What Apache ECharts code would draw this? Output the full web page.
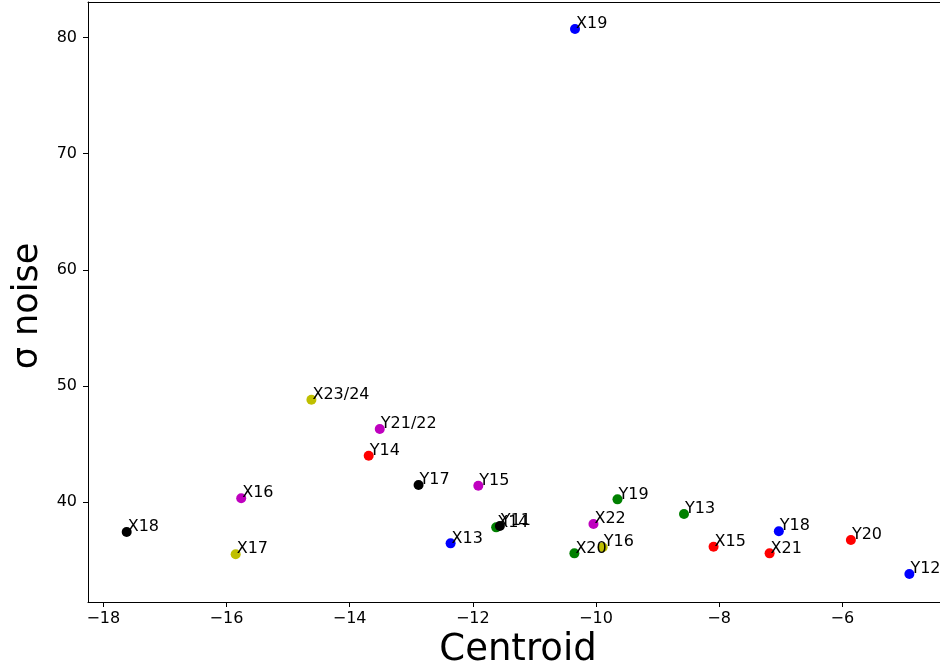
<!DOCTYPE html>
<html>
<head>
<meta charset="utf-8">
<script src="https://cdn.jsdelivr.net/npm/echarts@6/dist/echarts.min.js"></script>
<style>
  html, body { margin: 0; padding: 0; background: #ffffff; }
  #chart { width: 940px; height: 668px; }
</style>
</head>
<body>
<div id="chart"></div>
<script>
// Point labels, centroid position and noise level for each channel
const labels = ['X13', 'X14', 'X15', 'X16', 'X17', 'X18', 'X19', 'X20', 'X21', 'X22', 'X23/24',
                'Y11', 'Y12', 'Y13', 'Y14', 'Y15', 'Y16', 'Y17', 'Y18', 'Y19', 'Y20', 'Y21/22'];
const centroid = [-12.36, -11.62, -8.09, -15.76, -15.85, -17.62, -10.34, -10.35, -7.18, -10.04, -14.62,
                  -11.56, -4.91, -8.57, -13.69, -11.91, -9.89, -12.88, -7.03, -9.65, -5.86, -13.51];
const sigmaNoise = [36.44, 37.82, 36.15, 40.32, 35.50, 37.42, 80.75, 35.58, 35.58, 38.11, 48.81,
                    37.93, 33.80, 38.97, 43.99, 41.40, 36.10, 41.46, 37.48, 40.23, 36.73, 46.29];
// Colour code per point (b, g, r, m, y, k cycle)
const colourCode = ['b', 'g', 'r', 'm', 'y', 'k', 'b', 'g', 'r', 'm', 'y',
                    'k', 'b', 'g', 'r', 'm', 'y', 'k', 'b', 'g', 'r', 'm'];

const xTicks = [-18, -16, -14, -12, -10, -8, -6];
const yTicks = [40, 50, 60, 70, 80];

const palette = { b: '#0000ff', g: '#008000', r: '#ff0000', m: '#bf00bf', y: '#bfbf00', k: '#000000' };
const FONT = 'DejaVu Sans';

const points = labels.map((name, i) => ({
  name: name,
  value: [centroid[i], sigmaNoise[i]],
  itemStyle: { color: palette[colourCode[i]], opacity: 1 }
}));

// The plot area runs off the right edge of the canvas, so no right spine is drawn
const xRange = { min: -18.248, max: -4.413 };
const yRange = { min: 31.39, max: 83.07 };
const minusSign = v => String(v).replace('-', '\u2212');

const chart = echarts.init(document.getElementById('chart'), null, { renderer: 'canvas' });
chart.setOption({
  backgroundColor: '#ffffff',
  animation: false,
  grid: { left: 88, right: 0, top: 2, bottom: 66, containLabel: false, outerBoundsMode: 'none' },
  xAxis: [
    {
      type: 'value',
      position: 'bottom',
      min: xRange.min,
      max: xRange.max,
      name: 'Centroid',
      nameLocation: 'middle',
      nameGap: 30,
      nameMoveOverlap: false,
      nameTextStyle: { fontFamily: FONT, fontSize: 37, color: '#000000', padding: [0, 0, 0, 8] },
      axisLine: { show: true, onZero: false, lineStyle: { color: '#000000', width: 1 } },
      axisTick: { show: true, length: 5, customValues: xTicks, lineStyle: { color: '#000000' } },
      axisLabel: {
        customValues: xTicks, margin: 9, fontFamily: FONT, fontSize: 16, color: '#000000',
        formatter: minusSign
      },
      splitLine: { show: false }
    },
    {
      type: 'value',
      position: 'top',
      min: xRange.min,
      max: xRange.max,
      axisLine: { show: true, onZero: false, lineStyle: { color: '#000000', width: 1 } },
      axisTick: { show: false },
      axisLabel: { show: false },
      splitLine: { show: false }
    }
  ],
  yAxis: {
    type: 'value',
    min: yRange.min,
    max: yRange.max,
    name: '\u03c3 noise',
    nameLocation: 'middle',
    nameRotate: 90,
    nameGap: 43,
    nameMoveOverlap: false,
    nameTextStyle: { fontFamily: FONT, fontSize: 35, color: '#000000', padding: [0, 8, 0, 0] },
    axisLine: { show: true, onZero: false, lineStyle: { color: '#000000', width: 1 } },
    axisTick: { show: true, length: 5, customValues: yTicks, lineStyle: { color: '#000000' } },
    axisLabel: { customValues: yTicks, margin: 11, fontFamily: FONT, fontSize: 16, color: '#000000' },
    splitLine: { show: false }
  },
  series: [{
    type: 'scatter',
    xAxisIndex: 0,
    symbol: 'circle',
    symbolSize: 10,
    itemStyle: { opacity: 1 },
    data: points,
    label: {
      show: true,
      formatter: p => p.name,
      position: [6, 8],
      align: 'left',
      verticalAlign: 'bottom',
      fontFamily: FONT,
      fontSize: 16,
      color: '#000000',
      opacity: 1
    },
    emphasis: { disabled: true }
  }]
});
</script>
</body>
</html>
